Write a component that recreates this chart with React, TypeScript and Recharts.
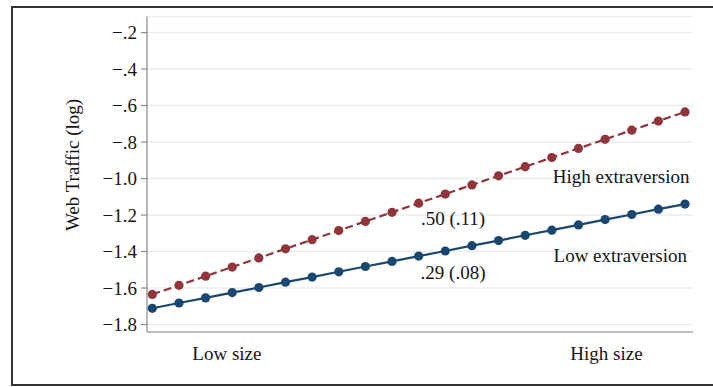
import React from "react";
import {
  LineChart,
  Line,
  XAxis,
  YAxis,
  CartesianGrid,
  ReferenceDot,
} from "recharts";

// size steps along the x axis (low size -> high size)
const steps = [0, 1, 2, 3, 4, 5, 6, 7, 8, 9, 10, 11, 12, 13, 14, 15, 16, 17, 18, 19, 20];

const highExtraversion = [
  -1.635, -1.585, -1.535, -1.485, -1.435, -1.385, -1.335, -1.285, -1.235, -1.185, -1.135,
  -1.085, -1.035, -0.985, -0.935, -0.885, -0.835, -0.785, -0.735, -0.685, -0.635,
];

const lowExtraversion = [
  -1.711, -1.682, -1.654, -1.625, -1.597, -1.568, -1.54, -1.511, -1.482, -1.454, -1.425,
  -1.397, -1.368, -1.34, -1.311, -1.283, -1.254, -1.225, -1.197, -1.168, -1.14,
];

const yTickValues = [-1.8, -1.6, -1.4, -1.2, -1.0, -0.8, -0.6, -0.4, -0.2];
const yTickLabels = ["\u22121.8", "\u22121.6", "\u22121.4", "\u22121.2", "\u22121.0", "\u2212.8", "\u2212.6", "\u2212.4", "\u2212.2"];

const xTickValues = [2.8, 17.05];
const xTickLabels = ["Low size", "High size"];

const annotations = [
  { x: 17.6, y: -0.986, text: "High extraversion" },
  { x: 11.29, y: -1.216, text: ".50 (.11)" },
  { x: 17.57, y: -1.422, text: "Low extraversion" },
  { x: 11.29, y: -1.512, text: ".29 (.08)" },
];

const data = steps.map((x, i) => ({
  x,
  high: highExtraversion[i],
  low: lowExtraversion[i],
}));

const FONT = '"Liberation Serif", "Times New Roman", serif';
const RED = "#90353b";
const BLUE = "#1a476f";
const INK = "#151515";

export default function App() {
  return (
    <div
      style={{
        position: "fixed",
        left: 0,
        top: 0,
        width: 713,
        height: 387,
        background: "#fff",
        fontFamily: FONT,
      }}
    >
      {/* outer frame */}
      <div
        style={{
          position: "absolute",
          left: 11,
          top: 6,
          width: 702,
          height: 376,
          borderTop: "2px solid #333",
          borderLeft: "2px solid #333",
          borderBottom: "2px solid #333",
        }}
      />
      <div style={{ position: "absolute", left: 0, top: 0 }}>
        <LineChart
          width={713}
          height={387}
          data={data}
          margin={{ top: 16.5, right: 20, bottom: 0, left: 0 }}
        >
          <CartesianGrid
            horizontal
            vertical={false}
            stroke="#e6eef0"
            strokeWidth={1.5}
          />
          <XAxis
            type="number"
            dataKey="x"
            domain={[-0.2, 20.3]}
            ticks={xTickValues}
            tickFormatter={(v: number) => xTickLabels[xTickValues.indexOf(v)] ?? ""}
            tickLine={false}
            axisLine={{ stroke: "#8a8a8a", strokeWidth: 1.2 }}
            height={55}
            tickSize={6}
            tickMargin={9}
            tick={{ fontSize: 19, fill: INK, fontFamily: FONT }}
            allowDataOverflow
          />
          <YAxis
            type="number"
            domain={[-1.841, -0.112]}
            ticks={yTickValues}
            tickFormatter={(v: number) => yTickLabels[yTickValues.indexOf(v)] ?? ""}
            width={147}
            tickSize={6}
            tickMargin={4}
            axisLine={{ stroke: "#8a8a8a", strokeWidth: 1.2 }}
            tickLine={{ stroke: "#8a8a8a", strokeWidth: 1.2 }}
            tick={{ fontSize: 19, fill: INK, fontFamily: FONT }}
            allowDataOverflow
          />
          <Line
            type="linear"
            dataKey="high"
            stroke={RED}
            strokeWidth={2.2}
            strokeDasharray="8 4"
            dot={{ r: 4.6, fill: RED, stroke: "none" }}
            isAnimationActive={false}
          />
          <Line
            type="linear"
            dataKey="low"
            stroke={BLUE}
            strokeWidth={2.2}
            dot={{ r: 4.6, fill: BLUE, stroke: "none" }}
            isAnimationActive={false}
          />
          {annotations.map((a) => (
            <ReferenceDot
              key={a.text}
              x={a.x}
              y={a.y}
              r={0}
              fill="none"
              stroke="none"
              ifOverflow="visible"
              label={{
                value: a.text,
                position: "center",
                fontSize: 19,
                fill: INK,
                fontFamily: FONT,
              }}
            />
          ))}
        </LineChart>
      </div>
      {/* y axis title */}
      <svg
        width={713}
        height={387}
        style={{ position: "absolute", left: 0, top: 0, pointerEvents: "none" }}
      >
        <text
          x={72}
          y={165}
          transform="rotate(-90 72 165)"
          textAnchor="middle"
          dominantBaseline="central"
          fontSize={19}
          fill={INK}
          fontFamily={FONT}
        >
          Web Traffic (log)
        </text>
      </svg>
    </div>
  );
}
